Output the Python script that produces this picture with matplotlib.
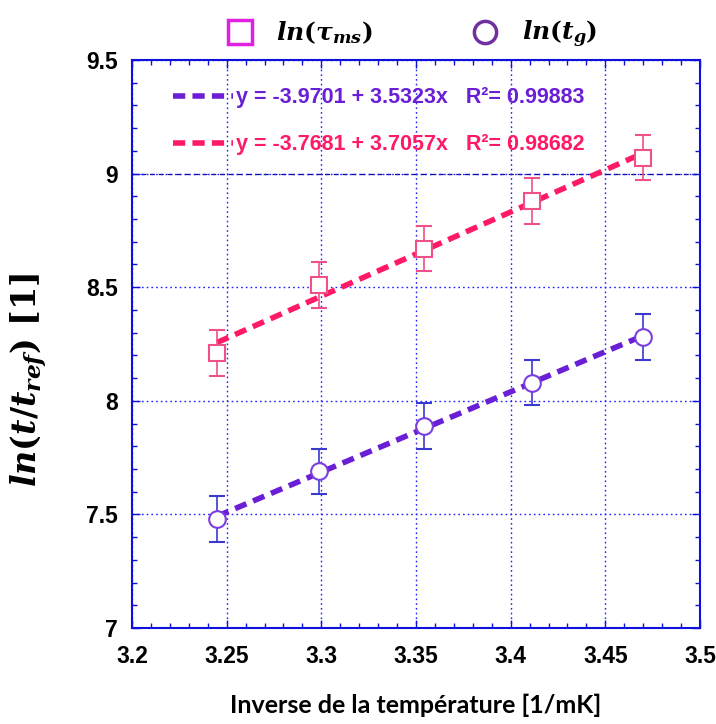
import matplotlib
matplotlib.use("Agg")
import matplotlib.pyplot as plt
from matplotlib.lines import Line2D
from matplotlib.ticker import MultipleLocator

plt.rcParams["mathtext.fontset"] = "custom"
plt.rcParams["mathtext.it"] = "DejaVu Serif:italic:bold"
plt.rcParams["mathtext.rm"] = "DejaVu Serif:bold"
plt.rcParams["mathtext.bf"] = "DejaVu Serif:bold"

# data
inv_T = [3.245, 3.299, 3.354, 3.411, 3.470]
ln_tau_ms = [8.21, 8.51, 8.67, 8.88, 9.07]
ln_tg = [7.48, 7.69, 7.89, 8.08, 8.28]
err = 0.1

# fits (intercept, slope)
fit_tg = (-3.9701, 3.5323)
fit_ms = (-3.7681, 3.7057)

col_ms = "#ff1a66"
col_tg = "#6a1fd6"

fig = plt.figure(figsize=(7.16, 7.24), dpi=100)
ax = fig.add_axes([0.1844, 0.1326, 0.7933, 0.7845])

# fit lines
xs = [inv_T[0], inv_T[-1]]
l_tg, = ax.plot(xs, [fit_tg[0] + fit_tg[1] * x for x in xs], color=col_tg, lw=4,
                ls=(0, (2.2, 1.3)), zorder=3,
                label="y = -3.9701 + 3.5323x   R²= 0.99883")
l_ms, = ax.plot(xs, [fit_ms[0] + fit_ms[1] * x for x in xs], color=col_ms, lw=4,
                ls=(0, (2.2, 1.3)), zorder=3,
                label="y = -3.7681 + 3.7057x   R²= 0.98682")

# points with error bars
ax.errorbar(inv_T, ln_tau_ms, yerr=err, fmt="s", ms=11, mfc="white", mec="#f0508a",
            mew=1.5, ecolor="#f0508a", elinewidth=1.2, capsize=6, capthick=1.2, zorder=4)
ax.errorbar(inv_T, ln_tg, yerr=err, fmt="o", ms=12, mfc="white", mec="#7b3fe0",
            mew=1.5, ecolor="#3a3ad0", elinewidth=1.2, capsize=6, capthick=1.2, zorder=4)

ax.set_xlim(3.2, 3.5)
ax.set_ylim(7, 9.5)
ax.set_xticks([3.2, 3.25, 3.3, 3.35, 3.4, 3.45, 3.5])
ax.set_xticklabels(["3.2", "3.25", "3.3", "3.35", "3.4", "3.45", "3.5"])
ax.set_yticks([7, 7.5, 8, 8.5, 9, 9.5])
ax.set_yticklabels(["7", "7.5", "8", "8.5", "9", "9.5"])
ax.xaxis.set_minor_locator(MultipleLocator(0.01))
ax.yaxis.set_minor_locator(MultipleLocator(0.1))

ax.grid(True, which="major", color="#2020ff", ls=(0, (1.2, 2.2)), lw=1)
ax.axhline(9, color="#000080", ls=(0, (4, 3)), lw=0.9, zorder=1)

for s in ax.spines.values():
    s.set_color("#1010dd")
    s.set_linewidth(1.5)
ax.tick_params(which="both", direction="in", top=True, right=True, colors="#1010dd",
               labelcolor="black")
ax.tick_params(axis="x", pad=12)
ax.tick_params(axis="y", pad=10)
ax.tick_params(which="major", length=6, width=1)
ax.tick_params(which="minor", length=3.5, width=1)
for lab in ax.get_xticklabels() + ax.get_yticklabels():
    lab.set_fontfamily("Liberation Sans")
    lab.set_fontweight("bold")
    lab.set_fontsize(16.5)

ax.set_xlabel("Inverse de la température [1/mK]", fontfamily="Lato", fontweight="bold",
              fontsize=18)
ax.xaxis.set_label_coords(0.5, -0.115)
ax.set_ylabel(r"$ln(t/t_{ref})$ [1]", fontfamily="DejaVu Serif", fontweight="bold",
              fontsize=24)
ax.yaxis.set_label_coords(-0.145, 0.437)

# in-plot legend of fits
leg = ax.legend(handles=[l_tg, l_ms], loc="upper left", bbox_to_anchor=(0.072, 0.952),
                frameon=False, borderpad=0, borderaxespad=0, handlelength=2.8,
                handletextpad=0.15, labelspacing=1.2,
                prop={"family": "Liberation Sans", "weight": "bold", "size": 15.5},
                labelcolor="linecolor")

# top legend
h1 = Line2D([], [], ls="none", marker="s", ms=17, mfc="white", mec="#e020e0", mew=2.5)
h2 = Line2D([], [], ls="none", marker="o", ms=16, mfc="white", mec="#7030a0", mew=2.5)
fig.legend([h1, h2], [r"$ln(\tau_{ms})$", r"$ln(t_g)$"], loc="upper center",
           bbox_to_anchor=(0.567, 1.005), ncol=2, frameon=False, fontsize=18,
           columnspacing=3.5, handletextpad=0.45)

fig.savefig("out.png", dpi=100)
